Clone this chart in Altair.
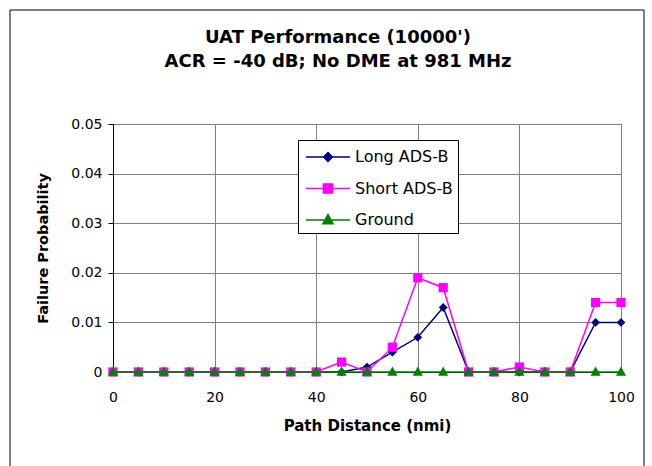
import altair as alt
import pandas as pd

# ---- data ----
distance = [0, 5, 10, 15, 20, 25, 30, 35, 40, 45, 50, 55, 60, 65, 70, 75, 80, 85, 90, 95, 100]
long_adsb = [0, 0, 0, 0, 0, 0, 0, 0, 0, 0, 0.001, 0.004, 0.007, 0.013, 0, 0, 0, 0, 0, 0.010, 0.010]
short_adsb = [0, 0, 0, 0, 0, 0, 0, 0, 0, 0.002, 0, 0.005, 0.019, 0.017, 0, 0, 0.001, 0, 0, 0.014, 0.014]
ground = [0] * 21

series_names = ["Long ADS-B", "Short ADS-B", "Ground"]
series_values = [long_adsb, short_adsb, ground]
series_colors = ["#000080", "#ff00ff", "#008000"]

x_ticks = [0, 20, 40, 60, 80, 100]
y_ticks = [0, 0.01, 0.02, 0.03, 0.04, 0.05]

title_lines = ["UAT Performance (10000')", "ACR = -40 dB; No DME at 981 MHz"]
x_title = "Path Distance (nmi)"
y_title = "Failure Probability"

# marker outlines (unit coordinates) and legend glyphs (line + marker)
marker_paths = [
    "M0,-0.4L0.4,0L0,0.4L-0.4,0Z",
    "M-0.42,-0.42H0.42V0.42H-0.42Z",
    "M0,-0.5L0.46,0.34L-0.46,0.34Z",
]
legend_paths = ["M-2,0H2" + p for p in marker_paths]

rows = []
for name, vals in zip(series_names, series_values):
    for d, v in zip(distance, vals):
        rows.append({"series": name, "distance": d, "prob": v})
df = pd.DataFrame(rows)

FONT = "DejaVu Sans"
W, H = 508, 248

x_enc = alt.X(
    "distance:Q",
    scale=alt.Scale(domain=[0, 100], nice=False, zero=False),
    axis=alt.Axis(
        values=x_ticks, title=x_title, grid=True, ticks=False, labelFlush=False,
        labelPadding=18, labelFont=FONT, labelFontSize=14, labelColor="black",
        titleFont=FONT, titleFontSize=15, titleFontWeight="bold", titleColor="black",
        titlePadding=14, domainColor="black", gridColor="#808080",
    ),
)
y_enc = alt.Y(
    "prob:Q",
    scale=alt.Scale(domain=[0, 0.05], nice=False),
    axis=alt.Axis(
        values=y_ticks, title=y_title, grid=True, tickSize=5, tickColor="black",
        labelPadding=6, labelFont=FONT, labelFontSize=14, labelColor="black", labelFlush=False,
        labelExpr="datum.value == 0 ? '0' : format(datum.value, '.2f')",
        titleFont=FONT, titleFontSize=14.5, titleFontWeight="bold", titleColor="black",
        titleX=-70, titleY=H / 2, titleBaseline="middle", titleAngle=270,
        domainColor="black", gridColor="#808080",
    ),
)

base = alt.Chart(df)

frame = alt.Chart(alt.Data(values=[{"k": 1}])).mark_rect(
    filled=False, stroke="black", strokeWidth=1, clip=False
).encode(
    x=alt.value(-103), x2=alt.value(531), y=alt.value(-114), y2=alt.value(H + 200)
)

layers = [frame]
for name, col, mpath in zip(series_names, series_colors, marker_paths):
    sub = base.transform_filter(alt.datum.series == name)
    layers.append(sub.mark_line(color=col, strokeWidth=1.5).encode(x=x_enc, y=y_enc))
    layers.append(
        sub.mark_point(filled=True, shape=mpath, size=484, fill=col, strokeWidth=0, opacity=1)
        .encode(x=x_enc, y=y_enc)
    )

legend = alt.Legend(
    orient="none", legendX=185, legendY=16, padding=5,
    symbolOffset=13, labelOffset=15, rowPadding=11.5, symbolSize=484,
    symbolStrokeWidth=1.5, labelFont=FONT, labelFontSize=16, labelColor="black",
    strokeColor="black", fillColor="white", title=None,
)
dom = alt.Scale(domain=series_names, range=series_colors)
legend_layer = base.transform_filter("false").mark_point(
    filled=True, size=484, strokeWidth=1.5, opacity=1
).encode(
    x=x_enc, y=y_enc,
    fill=alt.Fill("series:N", scale=dom, legend=legend, title=None),
    stroke=alt.Stroke("series:N", scale=dom, legend=legend, title=None),
    shape=alt.Shape("series:N", scale=alt.Scale(domain=series_names, range=legend_paths),
                    legend=legend, title=None),
)
layers.append(legend_layer)

chart = alt.layer(*layers).properties(
    width=W, height=H,
    title=alt.TitleParams(
        text=title_lines, font=FONT, fontSize=18, fontWeight="bold", color="black",
        anchor="middle", dx=-29, lineHeight=24, offset=-61,
    ),
    autosize=alt.AutoSizeParams(type="none"),
    padding={"left": 113, "top": 124, "right": 31, "bottom": 94},
    background="white",
).configure_view(stroke="black", strokeWidth=1)

chart.save("out.html", embed_options={"renderer": "svg", "actions": False})
